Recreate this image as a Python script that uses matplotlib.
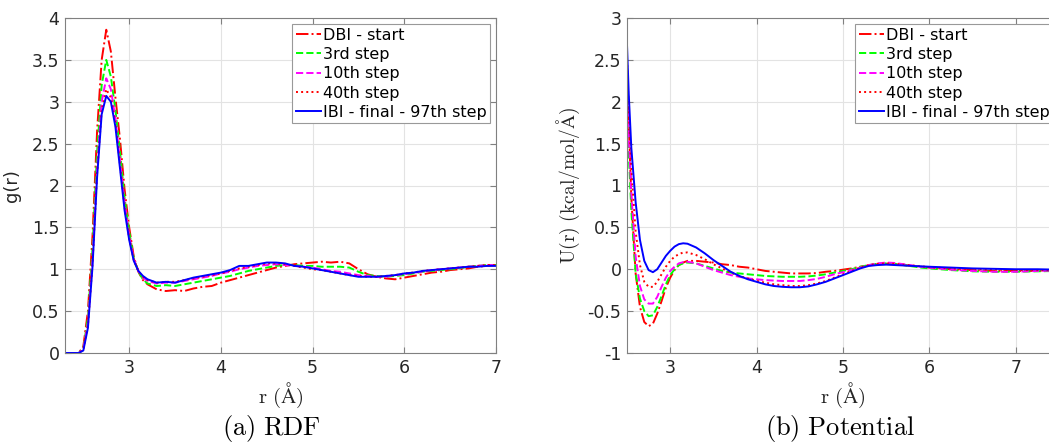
import numpy as np
import matplotlib
matplotlib.use('Agg')
import matplotlib.pyplot as plt

plt.rcParams['mathtext.fontset'] = 'cm'
plt.rcParams['font.family'] = 'DejaVu Sans'

# RDF data (r in Angstrom)
r_rdf = [2.3, 2.4, 2.45, 2.5, 2.55, 2.6, 2.65, 2.7, 2.75, 2.8, 2.85, 2.9, 2.95, 3.0, 3.05, 3.1, 3.15, 3.2,
         3.3, 3.4, 3.5, 3.6, 3.7, 3.8, 3.9, 4.0, 4.1, 4.2, 4.3, 4.4, 4.5, 4.6, 4.7, 4.8, 4.9,
         5.0, 5.1, 5.2, 5.3, 5.4, 5.5, 5.6, 5.7, 5.8, 5.9, 6.0, 6.1, 6.2, 6.3, 6.4, 6.5, 6.6, 6.7, 6.8, 6.9, 7.0]
g_dbi = [0, 0, 0, 0.08, 0.5, 1.4, 2.65, 3.5, 3.86, 3.6, 3.05, 2.55, 1.95, 1.5, 1.15, 0.97, 0.87, 0.82,
         0.76, 0.74, 0.75, 0.74, 0.77, 0.79, 0.80, 0.84, 0.87, 0.90, 0.93, 0.96, 0.99, 1.02, 1.04, 1.06, 1.07,
         1.08, 1.09, 1.08, 1.09, 1.07, 1.00, 0.94, 0.91, 0.89, 0.88, 0.90, 0.92, 0.94, 0.96, 0.97, 0.99, 1.00, 1.01, 1.03, 1.04, 1.05]
g_3rd = [0, 0, 0, 0.06, 0.42, 1.25, 2.4, 3.2, 3.5, 3.3, 2.9, 2.4, 1.85, 1.45, 1.13, 0.97, 0.88, 0.83,
         0.80, 0.81, 0.80, 0.82, 0.84, 0.86, 0.88, 0.90, 0.92, 0.95, 0.98, 1.00, 1.02, 1.04, 1.05, 1.05, 1.04,
         1.04, 1.03, 1.03, 1.03, 1.02, 0.97, 0.93, 0.92, 0.91, 0.92, 0.93, 0.95, 0.97, 0.98, 0.99, 1.00, 1.01, 1.03, 1.04, 1.05, 1.05]
g_10th = [0, 0, 0, 0.05, 0.36, 1.12, 2.2, 3.0, 3.28, 3.15, 2.8, 2.3, 1.78, 1.4, 1.12, 0.98, 0.90, 0.86,
          0.83, 0.84, 0.84, 0.86, 0.88, 0.90, 0.92, 0.95, 0.97, 1.00, 1.02, 1.04, 1.05, 1.06, 1.05, 1.04, 1.03,
          1.02, 1.00, 0.98, 0.97, 0.95, 0.93, 0.92, 0.91, 0.91, 0.93, 0.94, 0.96, 0.97, 0.99, 1.00, 1.01, 1.02, 1.03, 1.04, 1.05, 1.05]
g_40th = [0, 0, 0, 0.04, 0.33, 1.07, 2.15, 2.9, 3.15, 3.05, 2.75, 2.25, 1.74, 1.37, 1.11, 0.98, 0.91, 0.87,
          0.84, 0.85, 0.85, 0.87, 0.89, 0.91, 0.93, 0.95, 0.98, 1.01, 1.03, 1.05, 1.07, 1.07, 1.06, 1.04, 1.02,
          1.00, 0.99, 0.97, 0.95, 0.93, 0.92, 0.91, 0.91, 0.92, 0.93, 0.95, 0.96, 0.98, 0.99, 1.00, 1.01, 1.02, 1.03, 1.04, 1.05, 1.05]
g_ibi = [0, 0, 0, 0.03, 0.3, 1.03, 2.1, 2.85, 3.07, 3.0, 2.7, 2.2, 1.7, 1.35, 1.1, 0.98, 0.92, 0.88,
         0.84, 0.85, 0.84, 0.87, 0.90, 0.92, 0.94, 0.96, 0.99, 1.04, 1.04, 1.06, 1.08, 1.08, 1.07, 1.04, 1.03,
         1.01, 0.99, 0.97, 0.95, 0.93, 0.91, 0.91, 0.91, 0.92, 0.93, 0.95, 0.96, 0.98, 0.99, 1.00, 1.01, 1.02, 1.03, 1.03, 1.04, 1.04]

# Potential data
r_pot = [2.5, 2.52, 2.55, 2.6, 2.65, 2.7, 2.75, 2.8, 2.85, 2.9, 2.95, 3.0, 3.05, 3.1, 3.15, 3.2,
         3.3, 3.4, 3.5, 3.6, 3.7, 3.8, 3.9, 4.0, 4.1, 4.2, 4.3, 4.4, 4.5, 4.6, 4.7, 4.8, 4.9,
         5.0, 5.1, 5.2, 5.3, 5.4, 5.5, 5.6, 5.7, 5.8, 5.9, 6.0, 6.25, 6.5, 6.75, 7.0, 7.25, 7.5]
u_dbi = [2.42, 1.75, 0.85, -0.05, -0.45, -0.63, -0.68, -0.65, -0.53, -0.38, -0.22, -0.10, -0.01, 0.05, 0.08, 0.10,
         0.10, 0.09, 0.08, 0.06, 0.05, 0.03, 0.02, 0.00, -0.02, -0.03, -0.04, -0.05, -0.05, -0.05, -0.045, -0.03, -0.02,
         -0.005, 0.01, 0.03, 0.045, 0.06, 0.065, 0.06, 0.05, 0.04, 0.03, 0.02, 0.0, -0.01, -0.02, -0.02, -0.02, -0.02]
u_3rd = [1.9, 1.4, 0.7, -0.05, -0.35, -0.5, -0.56, -0.55, -0.45, -0.32, -0.18, -0.07, 0.0, 0.05, 0.07, 0.08,
         0.07, 0.04, 0.01, -0.02, -0.04, -0.05, -0.06, -0.07, -0.08, -0.085, -0.09, -0.09, -0.09, -0.085, -0.075, -0.06, -0.04,
         -0.02, 0.0, 0.03, 0.05, 0.065, 0.07, 0.065, 0.05, 0.035, 0.02, 0.01, -0.01, -0.025, -0.03, -0.03, -0.025, -0.02]
u_10th = [2.15, 1.6, 0.9, 0.15, -0.2, -0.36, -0.41, -0.41, -0.33, -0.21, -0.10, -0.02, 0.03, 0.07, 0.085, 0.09,
          0.07, 0.03, -0.01, -0.04, -0.07, -0.09, -0.11, -0.12, -0.13, -0.135, -0.14, -0.14, -0.14, -0.13, -0.115, -0.09, -0.06,
          -0.035, -0.01, 0.02, 0.05, 0.07, 0.08, 0.075, 0.06, 0.045, 0.03, 0.02, -0.005, -0.02, -0.03, -0.03, -0.02, -0.015]
u_40th = [2.5, 1.9, 1.2, 0.45, 0.05, -0.15, -0.21, -0.21, -0.15, -0.06, 0.03, 0.10, 0.15, 0.18, 0.20, 0.20,
          0.17, 0.12, 0.06, 0.01, -0.04, -0.08, -0.11, -0.14, -0.16, -0.18, -0.19, -0.20, -0.20, -0.19, -0.17, -0.14, -0.10,
          -0.06, -0.02, 0.02, 0.05, 0.065, 0.07, 0.065, 0.055, 0.045, 0.035, 0.025, 0.01, 0.0, -0.005, -0.01, -0.01, -0.01]
u_ibi = [2.68, 2.1, 1.45, 0.8, 0.35, 0.1, -0.01, -0.035, 0.0, 0.08, 0.16, 0.22, 0.27, 0.30, 0.31, 0.305,
         0.26, 0.19, 0.11, 0.04, -0.03, -0.08, -0.12, -0.15, -0.18, -0.20, -0.21, -0.215, -0.215, -0.205, -0.18, -0.15, -0.11,
         -0.07, -0.03, 0.01, 0.04, 0.05, 0.055, 0.05, 0.045, 0.04, 0.035, 0.03, 0.02, 0.01, 0.005, 0.0, 0.0, -0.005]

labels = ['DBI - start', '3rd step', '10th step', '40th step', 'IBI - final - 97th step']
colors = ['#ff0000', '#00ff00', '#ff00ff', '#ff0000', '#0000ff']
styles = ['-.', '--', '--', ':', '-']

W, H = 1049, 446
fig = plt.figure(figsize=(W / 100, H / 100), dpi=100)
ax1 = fig.add_axes([65 / W, 93 / H, 431 / W, 335 / H])
ax2 = fig.add_axes([627 / W, 93 / H, 432 / W, 335 / H])


def style_axes(ax):
    ax.grid(True, color='#e3e3e3', linewidth=0.8)
    ax.set_axisbelow(True)
    for s in ax.spines.values():
        s.set_color('#808080')
        s.set_linewidth(0.8)
    ax.tick_params(direction='in', top=True, right=True, length=4, color='#808080',
                   labelcolor='#262626', labelsize=12.5, pad=4)


rdf = [g_dbi, g_3rd, g_10th, g_40th, g_ibi]
pot = [u_dbi, u_3rd, u_10th, u_40th, u_ibi]
for y, c, ls, lab in zip(rdf, colors, styles, labels):
    ax1.plot(r_rdf, y, color=c, linestyle=ls, linewidth=1.4, label=lab)
for y, c, ls, lab in zip(pot, colors, styles, labels):
    ax2.plot(r_pot, y, color=c, linestyle=ls, linewidth=1.4, label=lab)

ax1.set_xlim(2.3, 7)
ax1.set_ylim(0, 4)
ax1.set_xticks([3, 4, 5, 6, 7])
ax1.set_yticks(np.arange(0, 4.01, 0.5))
ax1.set_yticklabels(['0', '0.5', '1', '1.5', '2', '2.5', '3', '3.5', '4'])
ax1.set_ylabel('g(r)', fontsize=13, color='#262626', labelpad=8)

ax2.set_xlim(2.5, 7.5)
ax2.set_ylim(-1, 3)
ax2.set_xticks([3, 4, 5, 6, 7])
ax2.set_yticks(np.arange(-1, 3.01, 0.5))
ax2.set_yticklabels(['-1', '-0.5', '0', '0.5', '1', '1.5', '2', '2.5', '3'])
ax2.set_ylabel(r'$\mathrm{U(r)\ (kcal/mol/\AA)}$', fontsize=14, color='#262626', labelpad=4)

for ax in (ax1, ax2):
    style_axes(ax)
    ax.set_xlabel(r'$\mathrm{r\ (\AA)}$', fontsize=15, color='#262626', labelpad=3)
    leg = ax.legend(loc='upper right', fontsize=11.5, handlelength=1.6, handletextpad=0.1,
                    labelspacing=0.27, borderpad=0.2, borderaxespad=0.4, fancybox=False,
                    framealpha=1, edgecolor='#999999')
    leg.get_frame().set_linewidth(0.8)

fig.text(271 / W, 1 - 429 / H, r'$\mathrm{(a)\ RDF}$', fontsize=19, ha='center', va='center')
fig.text(840 / W, 1 - 429 / H, r'$\mathrm{(b)\ Potential}$', fontsize=19, ha='center', va='center')

fig.savefig('out.png', dpi=100)
